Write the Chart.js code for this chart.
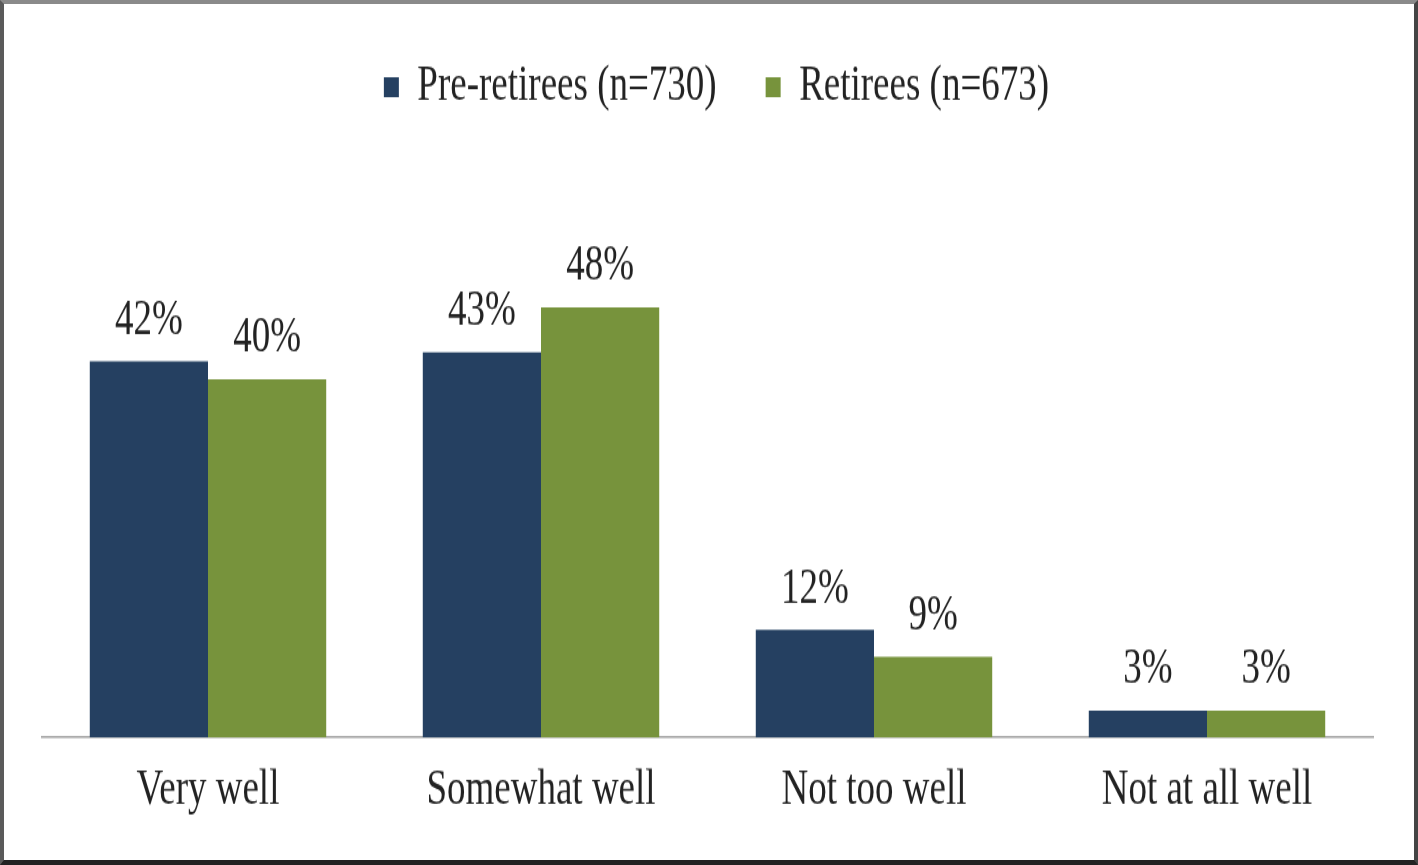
<!DOCTYPE html>
<html>
<head>
<meta charset="utf-8">
<script src="https://cdn.jsdelivr.net/npm/chart.js@4.4.1/dist/chart.umd.min.js"></script>
<style>
  html, body { margin: 0; padding: 0; background: #fff; }
  #wrap { position: relative; width: 1418px; height: 865px; overflow: hidden; background: #fff; }
  #c { position: absolute; left: 0; top: 0; transform-origin: 0 0; transform: scaleY(1.3308); }
  #frame { position: absolute; left: 0; top: 0; width: 1418px; height: 865px; box-sizing: border-box;
    border-top: 4px solid #8a8a8a; border-left: 4px solid #5a5a5a; border-right: 4px solid #444; border-bottom: 5px solid #222; pointer-events: none; }
</style>
</head>
<body>
<div id="wrap">
  <canvas id="c" width="1418" height="650"></canvas>
  <div id="frame"></div>
</div>
<script>
const categories = ["Very well", "Somewhat well", "Not too well", "Not at all well"];
const preRetirees = [42, 43, 12, 3];
const retirees = [40, 48, 9, 3];
const seriesNames = ["Pre-retirees (n=730)", "Retirees (n=673)"];

const FONT = "'Liberation Serif', 'Times New Roman', serif";

const legendSpacer = {
  id: 'legendSpacer',
  beforeInit(chart) {
    const orig = chart.legend.fit;
    chart.legend.fit = function () {
      orig.bind(chart.legend)();
      this.height += 123.6;
    };
  },
  afterLayout(chart) {
    chart.legend.left += 9;
    chart.legend.right += 9;
  }
};

const valueLabels = {
  id: 'valueLabels',
  afterDatasetsDraw(chart) {
    const ctx = chart.ctx;
    ctx.save();
    ctx.font = "37px " + FONT;
    ctx.fillStyle = '#222';
    ctx.textAlign = 'center';
    ctx.textBaseline = 'bottom';
    chart.data.datasets.forEach((ds, i) => {
      const meta = chart.getDatasetMeta(i);
      meta.data.forEach((bar, j) => {
        ctx.fillText(ds.data[j] + '%', bar.x, bar.y - 12);
      });
    });
    ctx.restore();
  }
};

function build() {
  new Chart(document.getElementById('c'), {
    type: 'bar',
    data: {
      labels: categories,
      datasets: [
        { label: seriesNames[0], data: preRetirees, backgroundColor: '#254061', borderWidth: 0 },
        { label: seriesNames[1], data: retirees, backgroundColor: '#77933C', borderWidth: 0 }
      ]
    },
    options: {
      responsive: false,
      animation: false,
      devicePixelRatio: 1,
      layout: { padding: { left: 41.5, right: 44.5, top: -2, bottom: 15.5 } },
      datasets: { bar: { barPercentage: 1, categoryPercentage: 0.71 } },
      scales: {
        x: {
          grid: { display: false, drawTicks: false },
          border: { display: true, color: '#a0a0a0', width: 1.5 },
          ticks: { color: '#222', font: { family: FONT, size: 37 }, padding: 18 }
        },
        y: { display: false, min: 0, max: 50 }
      },
      plugins: {
        legend: {
          position: 'top',
          labels: {
            color: '#222',
            font: { family: FONT, size: 37 },
            boxWidth: 15,
            boxHeight: 15,
            padding: 49
          }
        },
        tooltip: { enabled: false }
      }
    },
    plugins: [legendSpacer, valueLabels]
  });
}

const fontReady = (document.fonts && document.fonts.load)
  ? document.fonts.load("37px 'Liberation Serif'").catch(() => {})
  : Promise.resolve();
fontReady.then(build, build);
</script>
</body>
</html>
